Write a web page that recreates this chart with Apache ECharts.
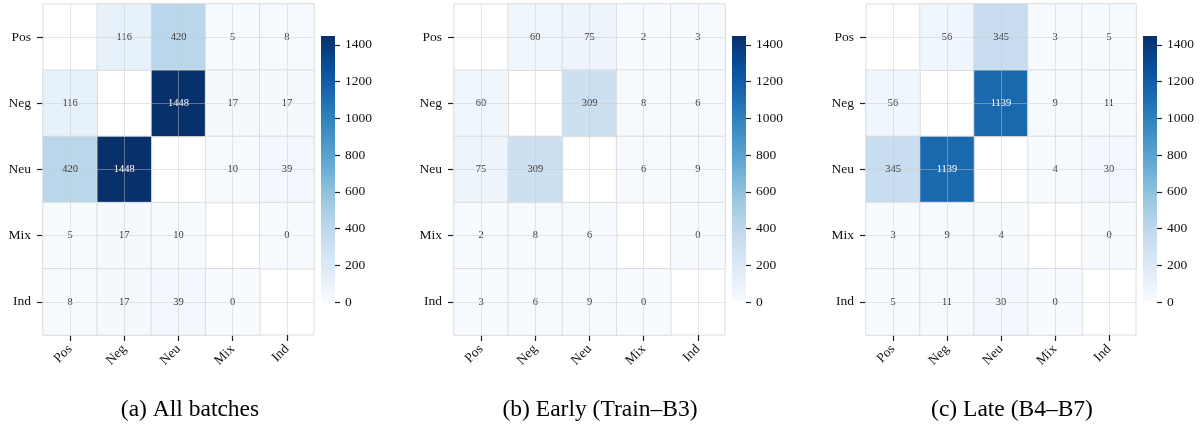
<!DOCTYPE html>
<html>
<head>
<meta charset="utf-8">
<script src="https://cdn.jsdelivr.net/npm/echarts@6/dist/echarts.min.js"></script>
<style>
html,body{margin:0;padding:0;background:#fff;}
#chart{width:1203px;height:427px;}
</style>
</head>
<body>
<div id="chart"></div>
<script>
// ---- data ----
const categories = ['Pos', 'Neg', 'Neu', 'Mix', 'Ind'];
const allBatches = [
  [null, 116, 420, 5, 8],
  [116, null, 1448, 17, 17],
  [420, 1448, null, 10, 39],
  [5, 17, 10, null, 0],
  [8, 17, 39, 0, null]
];
const earlyBatches = [
  [null, 60, 75, 2, 3],
  [60, null, 309, 8, 6],
  [75, 309, null, 6, 9],
  [2, 8, 6, null, 0],
  [3, 6, 9, 0, null]
];
const lateBatches = [
  [null, 56, 345, 3, 5],
  [56, null, 1139, 9, 11],
  [345, 1139, null, 4, 30],
  [3, 9, 4, null, 0],
  [5, 11, 30, 0, null]
];
const panelTitles = ['(a) All batches', '(b) Early (Train\u2013B3)', '(c) Late (B4\u2013B7)'];
const colorMin = 0;
const colorMax = 1448;
const colorbarTicks = [0, 200, 400, 600, 800, 1000, 1200, 1400];

// ---- style ----
const FONT = 'Liberation Serif, Times New Roman, serif';
const blues = ['#f7fbff', '#deebf7', '#c6dbef', '#9ecae1', '#6baed6', '#4292c6', '#2171b5', '#08519c', '#08306b'];
const panels = [
  { matrix: allBatches, gridLeft: 43, gridWidth: 271, cbLeft: 321, titleX: 190 },
  { matrix: earlyBatches, gridLeft: 454, gridWidth: 271, cbLeft: 732, titleX: 600 },
  { matrix: lateBatches, gridLeft: 866, gridWidth: 270, cbLeft: 1143, titleX: 1012 }
];
const gridTop = 4, gridHeight = 331;
const cbTop = 36, cbHeight = 266, cbWidth = 14;

const grid = [], xAxis = [], yAxis = [], series = [], graphic = [];

panels.forEach((p, k) => {
  grid.push({ left: p.gridLeft, top: gridTop, width: p.gridWidth, height: gridHeight,
    show: true, borderColor: '#dddddd', borderWidth: 1, backgroundColor: '#ffffff' });
  xAxis.push({
    type: 'category', gridIndex: k, data: categories, position: 'bottom',
    axisLine: { show: false },
    axisTick: { show: true, alignWithLabel: true, length: 6, lineStyle: { color: '#222', width: 1.2 } },
    axisLabel: { rotate: 45, margin: 12, fontFamily: FONT, fontSize: 13.5, color: '#111' },
    splitLine: { show: false }
  });
  yAxis.push({
    type: 'category', gridIndex: k, data: categories, inverse: true,
    axisLine: { show: false },
    axisTick: { show: true, alignWithLabel: true, length: 6, lineStyle: { color: '#222', width: 1.2 } },
    axisLabel: { margin: 12, fontFamily: FONT, fontSize: 13.5, color: '#111' },
    splitLine: { show: false }
  });
  const data = [];
  p.matrix.forEach((row, i) => {
    row.forEach((v, j) => {
      if (v === null) return;
      data.push({ value: [j, i, v], label: { color: v / colorMax > 0.6 ? '#ffffff' : '#333333' } });
    });
  });
  const mlData = [];
  categories.forEach(c => { mlData.push({ xAxis: c }); mlData.push({ yAxis: c }); });
  series.push({
    type: 'heatmap', xAxisIndex: k, yAxisIndex: k, data: data,
    itemStyle: { borderColor: '#dcdcdc', borderWidth: 1 },
    label: { show: true, fontFamily: FONT, fontSize: 10.5, formatter: pr => pr.value[2] },
    emphasis: { disabled: true },
    markLine: {
      silent: true, symbol: ['none', 'none'], label: { show: false },
      lineStyle: { type: 'solid', color: 'rgba(200,200,200,0.45)', width: 1 },
      data: mlData, animation: false
    }
  });
  graphic.push({
    type: 'text', x: p.titleX, y: 410,
    style: { text: panelTitles[k], fontFamily: FONT, fontSize: 23.5, fill: '#000',
      textAlign: 'center', textVerticalAlign: 'middle' }
  });
});

// colorbars
panels.forEach((p, k) => {
  const gi = 3 + k;
  grid.push({ left: p.cbLeft, top: cbTop, width: cbWidth, height: cbHeight, show: false });
  xAxis.push({ type: 'category', gridIndex: gi, data: ['cb'], show: false });
  yAxis.push({
    type: 'value', gridIndex: gi, min: colorMin, max: colorMax, position: 'right',
    axisLine: { show: false },
    axisTick: { show: true, length: 5, lineStyle: { color: '#222', width: 1.2 }, customValues: colorbarTicks },
    axisLabel: { margin: 10, fontFamily: FONT, fontSize: 13.5, color: '#111', customValues: colorbarTicks,
      formatter: v => String(v) },
    splitLine: { show: false }
  });
  series.push({
    type: 'bar', xAxisIndex: gi, yAxisIndex: gi, data: [colorMax], barWidth: '100%',
    silent: true,
    itemStyle: {
      color: new echarts.graphic.LinearGradient(0, 1, 0, 0,
        blues.map((c, i) => ({ offset: i / (blues.length - 1), color: c })))
    }
  });
});

const chart = echarts.init(document.getElementById('chart'), null, { renderer: 'canvas' });
chart.setOption({
  animation: false,
  backgroundColor: '#ffffff',
  grid, xAxis, yAxis, series, graphic,
  visualMap: {
    show: false, type: 'continuous', min: colorMin, max: colorMax,
    seriesIndex: [0, 1, 2], dimension: 2,
    inRange: { color: blues }
  }
});
</script>
</body>
</html>
